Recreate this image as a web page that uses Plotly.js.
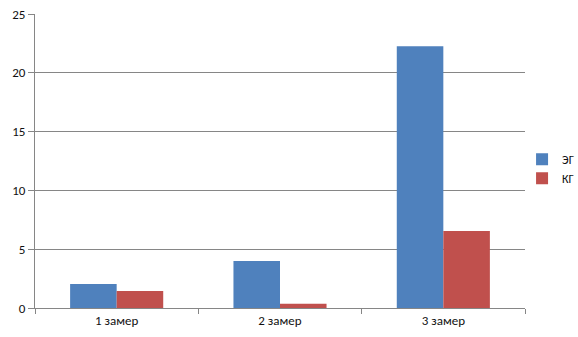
<!DOCTYPE html>
<html>
<head>
<meta charset="utf-8">
<script src="https://cdn.plot.ly/plotly-3.0.1.min.js"></script>
<style>body{margin:0;background:#fff;}#chart{width:578px;height:337px;}</style>
</head>
<body>
<div id="chart"></div>
<script>
const categories = ["1 замер", "2 замер", "3 замер"];
const seriesNames = ["ЭГ", "КГ"];
const valuesEG = [2.05, 4.0, 22.25];
const valuesKG = [1.45, 0.37, 6.55];
const yTicks = [0, 5, 10, 15, 20, 25];

const fontFam = "Carlito, 'Liberation Sans', 'DejaVu Sans', sans-serif";
const data = [
  {type: "bar", name: seriesNames[0], x: categories, y: valuesEG, marker: {color: "#4F81BD"}},
  {type: "bar", name: seriesNames[1], x: categories, y: valuesKG, marker: {color: "#C0504D"}}
];
const layout = {
  width: 578, height: 337,
  margin: {l: 35, r: 53, t: 14, b: 29, autoexpand: false},
  paper_bgcolor: "#fff", plot_bgcolor: "#fff",
  font: {family: fontFam, size: 13, color: "#111"},
  barmode: "group", bargap: 0.43, bargroupgap: 0,
  showlegend: true,
  legend: {x: 0.994, y: 0.474, yanchor: "middle", xanchor: "left",
           font: {size: 12}, itemwidth: 30, tracegroupgap: 0, borderwidth: 0, bgcolor: "rgba(0,0,0,0)"},
  xaxis: {
    type: "category", showgrid: false, showline: true, linecolor: "#868686", linewidth: 1,
    ticks: "outside", tickson: "boundaries", ticklen: 5, tickcolor: "#868686",
    zeroline: false, automargin: false
  },
  yaxis: {
    range: [0, 25], tickvals: yTicks, showgrid: true, gridcolor: "#868686", gridwidth: 1,
    showline: true, linecolor: "#868686", linewidth: 1, ticks: "outside", ticklen: 6,
    tickcolor: "#868686", zeroline: false, automargin: false
  }
};
Plotly.newPlot("chart", data, layout, {displayModeBar: false, staticPlot: true});
</script>
</body>
</html>
